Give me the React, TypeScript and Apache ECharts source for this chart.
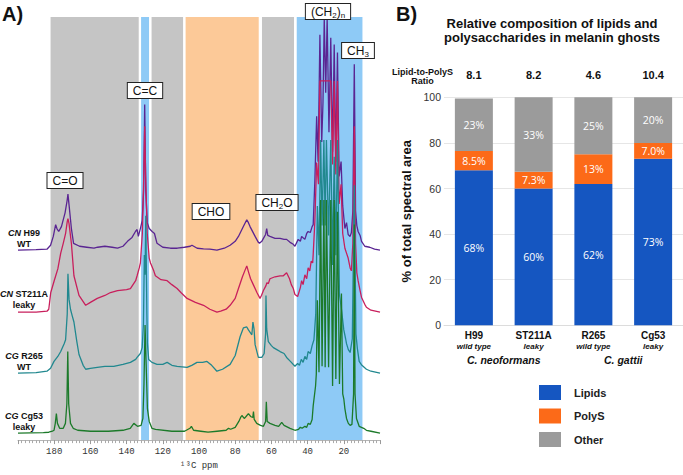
import React, { useEffect, useRef } from "react";
import * as echarts from "echarts";

// ---------- Panel B data ----------
const strains = ["H99", "ST211A", "R265", "Cg53"];
const phenotypes = ["wild type", "leaky", "wild type", "leaky"];
const species = ["C. neoformans", "C. gattii"];
const ratios = ["8.1", "8.2", "4.6", "10.4"];
const lipids = [68, 60, 62, 73];
const polyS = [8.5, 7.3, 13, 7.0];
const other = [23, 33, 25, 20];

// ---------- Panel A data ----------
// chemical-shift regions [from ppm, to ppm, kind]
const regionBands: [number, number, string][] = [
  [182, 133.3, "gray"],
  [132, 127.6, "blue"],
  [126.2, 108.8, "gray"],
  [107.4, 67, "orange"],
  [65.2, 47.5, "gray"],
  [46, 9.7, "blue"],
];
const traceNames = ["CN H99 WT", "CN ST211A leaky", "CG R265 WT", "CG Cg53 leaky"];

// [ppm, intensity] (arbitrary units)
const cnH99: [number, number][] = [
  [200, 0], [190, 0.5], [184, 1], [182, 5], [180.5, 14], [179.2, 26], [178.5, 22], [177.5, 19], [176, 24], [174, 38],
  [172.9, 50], [172.4, 57], [171.8, 46], [170.5, 22], [169.3, 7], [166, 4], [162, 3], [158, 2], [156, 3], [152, 4],
  [148, 3], [145, 2], [142, 4], [139.5, 9], [137, 13], [135.1, 19], [134.2, 21], [133.5, 14], [132.4, 22], [131.4, 30],
  [130.6, 60], [130.0, 148], [129.4, 60], [128.6, 28], [127.5, 22], [125.9, 19], [124.6, 17], [123.2, 7], [120, 3], [115.8, 2],
  [112, 2], [108, 3], [104.8, 4], [103.9, 5], [101, 2], [97.5, 1.3], [94, 1], [90.1, 0], [86, 2], [82.8, 5],
  [80, 9], [78.2, 14], [75.5, 24], [73.6, 31], [72.7, 28], [71.8, 24], [69, 14], [67.2, 8], [66.6, 7], [65.3, 9],
  [64.4, 12], [63.2, 16], [62.6, 22], [62, 15], [60.8, 14], [58, 12], [55.2, 12], [53, 11], [51.6, 11], [49.7, 8],
  [47.9, 6], [47, 4], [45.2, 11], [44, 9], [43.3, 14], [41.5, 11], [40.5, 17], [39.7, 19], [38.5, 18], [37.5, 24],
  [36.9, 26], [36, 70], [35, 136], [34.2, 90], [33.2, 219], [32.2, 110], [31.5, 150], [30.8, 236], [30, 160], [29.2, 236],
  [28.2, 120], [27.2, 216], [26.2, 100], [25.3, 209], [24.4, 90], [23.5, 201], [22.6, 75], [21.5, 90], [20.6, 45], [19.4, 22],
  [18.5, 28], [17.6, 16], [16.5, 14], [15.8, 18], [15, 40], [14.2, 189], [13.5, 40], [12.8, 25], [12.1, 19], [11, 15],
  [10.2, 9], [8.4, 4], [5.7, 3], [3, 1], [0, 0],
];

const cnST211A: [number, number][] = [
  [200, 0], [190, 0], [184, 1], [183, 3], [181.9, 20], [180, 32], [178, 44], [176.4, 60], [175, 70], [173.7, 80],
  [172.8, 92], [172.4, 95], [171.8, 90], [170.5, 70], [169.1, 37], [166.3, 17], [162.6, 7], [160, 10], [156.2, 14], [152, 17],
  [148.9, 20], [145, 22], [140, 23], [137.9, 24], [135, 32], [134.2, 37], [133, 45], [132.4, 50], [131.3, 80], [130.5, 140],
  [130.0, 189], [129.5, 140], [128.6, 80], [127.5, 55], [126.8, 50], [125, 42], [124.1, 37], [121, 33], [117.6, 32], [115, 28],
  [112.1, 24], [110, 20], [106.6, 14], [102, 10], [97.5, 7], [94, 3], [90.1, 0], [88, 1], [85, 3], [82.8, 7],
  [80, 14], [78.2, 24], [76, 36], [74.5, 43], [73.6, 47], [72.5, 40], [71.5, 34], [70, 28], [68, 20], [66.3, 14],
  [65.5, 17], [64.4, 22], [63, 27], [62.5, 30], [61.7, 29], [60.8, 34], [58, 36], [55.2, 37], [53.4, 37], [51.6, 40],
  [50, 34], [49, 28], [47.9, 24], [47, 18], [45.5, 16], [44, 25], [43.3, 32], [42.5, 28], [41.5, 38], [40.5, 34],
  [39.7, 45], [38.8, 42], [38, 52], [37.2, 50], [36.9, 59], [36, 92], [35, 152], [34, 130], [33.2, 235], [32.2, 235],
  [31.5, 235], [30.8, 235], [30, 235], [29.2, 235], [28.2, 235], [27.2, 235], [26.2, 150], [25.3, 235], [24.4, 140], [23.5, 235],
  [22.6, 110], [21.5, 130], [20.6, 80], [19.4, 65], [18.5, 60], [17.6, 55], [16.5, 45], [15.8, 42], [15, 70], [14.2, 189],
  [13.5, 70], [12.8, 40], [12.1, 32], [11, 22], [10.2, 15], [8.4, 8], [7.5, 5], [5, 2], [0, 0],
];

const cgR265: [number, number][] = [
  [200, 0], [190, 0.5], [184, 2], [182, 5], [180.1, 12], [178, 17], [176.4, 22], [174.5, 30], [173.7, 34], [172.8, 60],
  [172.4, 101], [171.8, 75], [171, 65], [170, 58], [169.1, 52], [167.5, 32], [166.3, 19], [164, 8], [162.6, 4], [160, 5],
  [156.2, 6], [152, 7], [147.1, 7], [142, 9], [137.9, 11], [135, 14], [134.2, 16], [132.4, 20], [131.4, 26], [130.7, 50],
  [130.2, 120], [129.8, 100], [129.4, 160], [128.8, 60], [128.5, 30], [127.8, 14], [126, 11], [123.2, 9], [120, 9], [117.6, 11],
  [115, 8], [112.1, 7], [106.6, 6], [104, 8], [101.1, 11], [98, 11], [95.6, 12], [93, 8], [90.1, 2], [87, 4],
  [82.8, 9], [80, 18], [77.3, 37], [75.5, 46], [73.6, 47], [72.7, 44], [70.8, 39], [70.2, 52], [69.6, 45], [69, 29],
  [67.2, 16], [65.3, 16], [64, 20], [63.2, 40], [63.0, 79], [62.6, 45], [61.7, 32], [60, 28], [58.9, 26], [57, 24],
  [55.2, 22], [53, 20], [51.6, 16], [49.5, 12], [47, 7], [45.5, 10], [44.5, 8], [43.5, 14], [42.5, 11], [41.5, 17],
  [40.5, 14], [39.7, 22], [38.5, 20], [37.5, 28], [36.5, 34], [35.5, 60], [34.6, 170], [33.7, 120], [32.8, 237], [32, 150],
  [31, 237], [30.3, 150], [29.6, 237], [28.4, 140], [27.2, 237], [26.2, 110], [25.3, 220], [24.4, 120], [23.5, 237], [22.4, 80],
  [21.3, 65], [20, 44], [19, 35], [18.5, 30], [17.5, 24], [16.5, 21], [15.3, 35], [14.2, 191], [13.3, 40], [12.5, 25],
  [11.5, 12], [10, 8], [7.5, 4], [5, 2], [0, 0],
];

const cgCg53: [number, number][] = [
  [200, 0], [186, 0.5], [183, 1], [181, 2], [180.1, 3], [179.4, 10], [178.8, 20], [178.2, 10], [177, 5], [175, 5],
  [173.8, 10], [173, 30], [172.5, 83], [172, 30], [171, 10], [169.5, 5], [167, 3], [160, 2], [150, 2], [142, 3],
  [138, 5], [136, 10], [134, 7], [132, 8], [131, 15], [130.4, 50], [129.8, 110], [129.2, 70], [128.5, 25], [127.5, 12],
  [126, 5], [124, 4], [115, 2], [108, 2], [105, 5], [104.2, 7], [103, 3], [99, 2], [95, 1], [90, 2],
  [85, 3], [83.7, 5], [82.5, 4], [80, 6], [78, 12], [77, 16], [76.3, 18], [75, 15], [74, 17], [72.7, 20],
  [71.5, 17], [70.3, 16], [69.9, 22], [69.5, 14], [68.1, 10], [66, 8], [64.4, 7], [63.2, 12], [62.8, 32], [62.3, 12],
  [60.8, 10], [58, 8], [56, 7], [54.3, 11], [53, 8], [49.7, 5], [47, 3], [45, 4], [44, 6], [43, 5],
  [41.5, 7], [40.5, 6], [39.7, 10], [38.5, 9], [37.5, 14], [36.9, 28], [35.6, 48], [35.2, 60], [34.6, 135], [33.7, 62],
  [32.8, 237], [32, 68], [31, 237], [30.3, 67], [29.6, 237], [28.4, 67], [27.2, 237], [26.2, 48], [25.3, 237], [24.4, 55],
  [23.5, 225], [22.4, 50], [21.3, 142], [20.6, 40], [20, 35], [19.4, 25], [18.5, 15], [17.5, 10], [16.5, 8], [15.5, 9],
  [14.6, 40], [14.2, 212], [13.8, 40], [13, 15], [11.5, 7], [9, 5], [7.5, 3], [5, 2], [0, 0],
];

const spectra = [cnH99, cnST211A, cgR265, cgCg53];

export default function App() {
  const ref = useRef<HTMLDivElement>(null);

  useEffect(() => {
    if (!ref.current) return;
    const chart = echarts.init(ref.current, undefined, { renderer: "svg" });
    const FONT = "Liberation Sans, Arial, Helvetica, sans-serif";

    const bandColor: Record<string, string> = {
      gray: "#c5c5c5",
      blue: "#8ecaf6",
      orange: "#fcc998",
    };
    const traceColors = ["#5a2592", "#c81f5c", "#21888f", "#1c7a2a"];
    const traceOffsets = [193, 130, 68, 7];

    const spectraSeries = spectra.map((tr, i) => ({
      type: "line",
      name: traceNames[i],
      xAxisIndex: 0,
      yAxisIndex: 0,
      data: tr.map(([p, h]) => [p, h + traceOffsets[i]]),
      showSymbol: false,
      symbol: "none",
      lineStyle: { color: traceColors[i], width: 1.3 },
      itemStyle: { color: traceColors[i] },
      z: 2 + i,
      markArea:
        i === 0
          ? {
              silent: true,
              itemStyle: { opacity: 1 },
              data: regionBands.map(([a, b, k]) => [
                { xAxis: a, itemStyle: { color: bandColor[k], opacity: 1 } },
                { xAxis: b },
              ]),
            }
          : undefined,
    }));

    const pctFmt = (v: number) => (v < 10 ? v.toFixed(1) : v.toFixed(0)) + "%";
    const barLabel = {
      show: true,
      position: "inside",
      color: "#fff",
      fontFamily: "Open Sans, Liberation Sans, sans-serif",
      fontSize: 10.5,
      formatter: (p: any) => pctFmt(p.value),
    };

    const barSeries = [
      { name: "Lipids", data: lipids, color: "#1556c1" },
      { name: "PolyS", data: polyS, color: "#fc6a18" },
      { name: "Other", data: other, color: "#9b9b9b" },
    ].map((s) => ({
      type: "bar",
      name: s.name,
      xAxisIndex: 1,
      yAxisIndex: 1,
      stack: "total",
      barWidth: 38,
      data: s.data,
      itemStyle: { color: s.color },
      label: barLabel,
    }));

    const subRich = {
      s: { fontSize: 8, lineHeight: 8, verticalAlign: "bottom", fontFamily: FONT, fill: "#111" },
    };
    const boxLabel = (x: number, y: number, text: string) => ({
      type: "text",
      x,
      y,
      z: 100,
      style: {
        text,
        fontSize: 12,
        fontFamily: FONT,
        lineHeight: 14,
        fill: "#111",
        align: "center",
        verticalAlign: "middle",
        backgroundColor: "#fff",
        borderColor: "#222",
        borderWidth: 1,
        padding: [1, 5, 0, 5],
        rich: subRich,
      },
    });

    const traceLabel = (y: number, line1a: string, line1b: string, line2: string) => ({
      type: "text",
      x: 24,
      y,
      z: 100,
      style: {
        text: `{i|${line1a}}{n| ${line1b}}\n{n|${line2}}`,
        align: "center",
        verticalAlign: "middle",
        fill: "#111",
        rich: {
          i: { fontStyle: "italic", fontWeight: "bold", fontSize: 9, fontFamily: FONT, lineHeight: 11, fill: "#111" },
          n: { fontWeight: "bold", fontSize: 9, fontFamily: FONT, lineHeight: 11, fill: "#111" },
        },
      },
    });

    const option: any = {
      animation: false,
      textStyle: { fontFamily: FONT },
      grid: [
        { left: 18, right: 303, top: 17, bottom: 28 },
        { left: 444, right: -7, top: 97.3, bottom: 149.7 },
      ],
      xAxis: [
        {
          type: "value",
          gridIndex: 0,
          min: 0,
          max: 200,
          interval: 20,
          inverse: true,
          offset: 1,
          axisLine: { show: true, lineStyle: { color: "#b5b5b5", width: 1 } },
          axisTick: { show: true, length: 4, lineStyle: { color: "#999" } },
          minorTick: { show: true, splitNumber: 10, length: 3, lineStyle: { color: "#aaa" } },
          splitLine: { show: false },
          axisLabel: {
            showMinLabel: false,
            showMaxLabel: false,
            fontFamily: "Liberation Mono, DejaVu Sans Mono, monospace",
            fontSize: 9,
            color: "#333",
            margin: 6,
          },
          name: "¹³C ppm",
          nameLocation: "middle",
          nameGap: 18,
          nameTextStyle: {
            fontFamily: "Liberation Mono, DejaVu Sans Mono, monospace",
            fontSize: 9,
            color: "#333",
          },
        },
        {
          type: "category",
          gridIndex: 1,
          data: strains,
          axisLine: { show: true, lineStyle: { color: "#dcdcdc" } },
          axisTick: { show: false },
          axisLabel: {
            margin: 5,
            interval: 0,
            formatter: (v: string, i: number) => `{a|${v}}\n{b|${phenotypes[i]}}`,
            rich: {
              a: { fontWeight: "bold", fontSize: 10, lineHeight: 11, color: "#111", fontFamily: FONT },
              b: { fontWeight: "bold", fontStyle: "italic", fontSize: 8, lineHeight: 10, color: "#111", fontFamily: FONT },
            },
          },
        },
        {
          type: "category",
          gridIndex: 1,
          data: species,
          position: "bottom",
          offset: 24,
          axisLine: { show: false },
          axisTick: { show: false },
          axisLabel: {
            margin: 5,
            interval: 0,
            fontWeight: "bold",
            fontStyle: "italic",
            fontSize: 10.5,
            color: "#111",
          },
        },
        {
          type: "category",
          gridIndex: 1,
          data: ratios,
          position: "top",
          axisLine: { show: false },
          axisTick: { show: false },
          axisLabel: {
            margin: 17,
            interval: 0,
            fontWeight: "bold",
            fontSize: 11,
            color: "#111",
          },
        },
      ],
      yAxis: [
        { type: "value", gridIndex: 0, min: 0, max: 430, show: false },
        {
          type: "value",
          gridIndex: 1,
          min: 0,
          max: 100,
          interval: 20,
          axisLine: { show: false },
          axisTick: { show: false },
          splitLine: { lineStyle: { color: "#e6e6e6" } },
          axisLabel: { fontSize: 10.5, color: "#333", margin: 3 },
          name: "% of total spectral area",
          nameLocation: "middle",
          nameGap: 31,
          nameTextStyle: { fontWeight: "bold", fontSize: 13, color: "#111" },
        },
      ],
      legend: {
        data: ["Lipids", "PolyS", "Other"],
        orient: "vertical",
        left: 534,
        top: 380,
        itemWidth: 22,
        itemHeight: 15,
        itemGap: 8.5,
        icon: "rect",
        selectedMode: false,
        textStyle: { fontWeight: "bold", fontSize: 11, color: "#222", padding: [0, 0, 0, 8] },
      },
      series: [...spectraSeries, ...barSeries],
      graphic: [
        {
          type: "text",
          left: 2,
          top: 4,
          style: { text: "A)", fontSize: 20, fontWeight: "bold", fontFamily: FONT, fill: "#111" },
        },
        {
          type: "text",
          left: 396,
          top: 4,
          style: { text: "B)", fontSize: 20, fontWeight: "bold", fontFamily: FONT, fill: "#111" },
        },
        {
          type: "text",
          x: 552,
          y: 30,
          style: {
            text: "Relative composition of lipids and\npolysaccharides in melanin ghosts",
            align: "center",
            verticalAlign: "middle",
            fontSize: 13,
            lineHeight: 14,
            fontWeight: "bold",
            fontFamily: FONT,
            fill: "#111",
          },
        },
        {
          type: "text",
          x: 422.5,
          y: 76.5,
          style: {
            text: "Lipid-to-PolyS\nRatio",
            align: "center",
            verticalAlign: "middle",
            fontSize: 9,
            lineHeight: 9.5,
            fontWeight: "bold",
            fontFamily: FONT,
            fill: "#111",
          },
        },
        boxLabel(65, 180.5, "C=O"),
        boxLabel(145, 90.5, "C=C"),
        boxLabel(211, 211.5, "CHO"),
        boxLabel(277, 202.5, "CH{s|2}O"),
        boxLabel(328, 11.5, "(CH{s|2}){s|n}"),
        boxLabel(358, 50.5, "CH{s|3}"),
        traceLabel(238, "CN", "H99", "WT"),
        traceLabel(299.5, "CN", "ST211A", "leaky"),
        traceLabel(361, "CG", "R265", "WT"),
        traceLabel(421.5, "CG", "Cg53", "leaky"),
      ],
    };

    chart.setOption(option);
    return () => chart.dispose();
  }, []);

  return (
    <div
      ref={ref}
      style={{ position: "fixed", left: 0, top: 0, width: 683, height: 475, background: "#fff" }}
    />
  );
}
